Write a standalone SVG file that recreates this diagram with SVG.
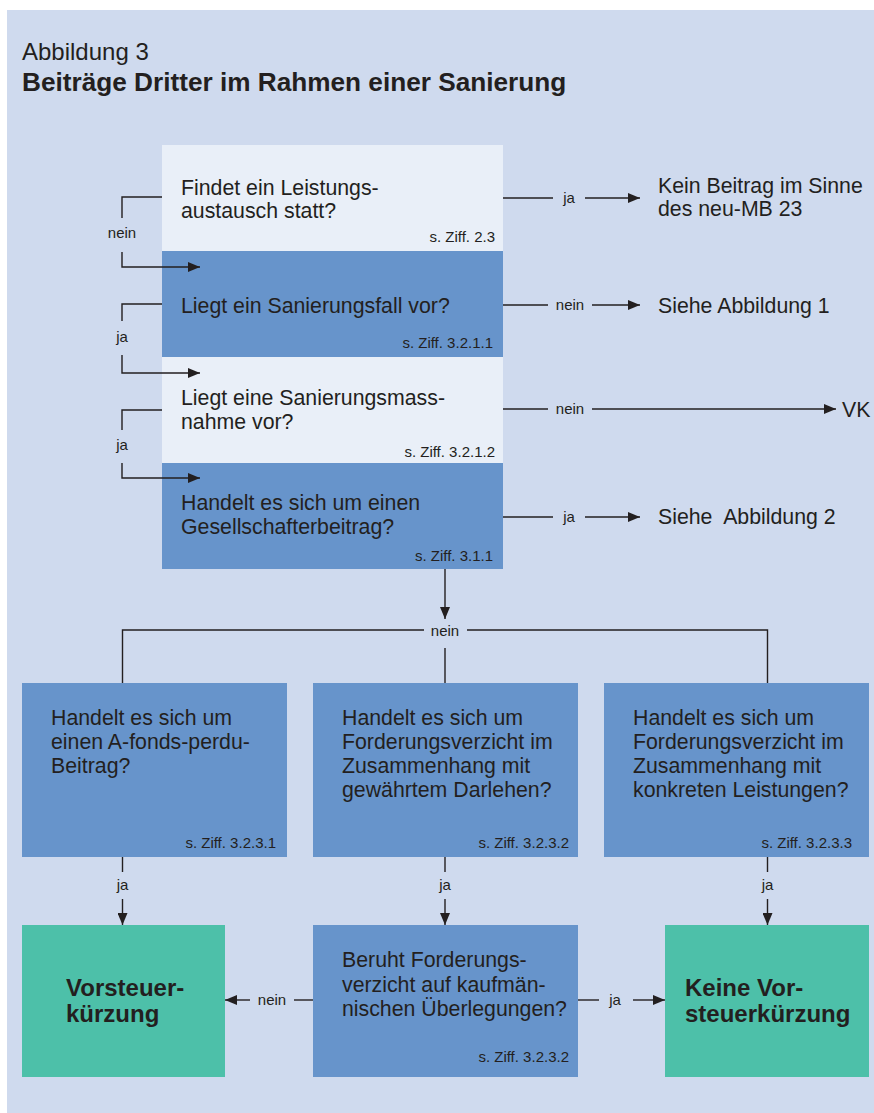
<svg xmlns="http://www.w3.org/2000/svg" width="874" height="1113" viewBox="0 0 874 1113">
<defs>
<marker id="ah" markerUnits="userSpaceOnUse" markerWidth="12" markerHeight="10" refX="12" refY="5" orient="auto">
<path d="M0,0 L12,5 L0,10 z" fill="#231F20"/>
</marker>
<style>
text{font-family:"Liberation Sans",Arial,sans-serif;fill:#231F20}
.t{font-size:21.3px}
.r{font-size:15px;text-anchor:end}
.l{font-size:15px;text-anchor:middle}
.b{font-size:24px;font-weight:bold}
.light{fill:#E9EFF8}
.blue{fill:#6794CB}
.green{fill:#4DC0A9}
.c{fill:none;stroke:#231F20;stroke-width:1.4}
</style>
</defs>
<rect x="7" y="10" width="867" height="1103" fill="#CFDAEE"/>
<g id="title">
<text x="22" y="60" style="font-size:24px">Abbildung 3</text>
<text x="22" y="91" style="font-size:26.2px;font-weight:bold">Beiträge Dritter im Rahmen einer Sanierung</text>
</g>
<g id="q1">
<rect class="light" x="162" y="145" width="341" height="106"/>
<text class="t" x="181" y="195">Findet ein Leistungs-</text>
<text class="t" x="181" y="218">austausch statt?</text>
<text class="r" x="495" y="242">s. Ziff. 2.3</text>
</g>
<g id="q2">
<rect class="blue" x="162" y="251" width="341" height="106"/>
<text class="t" x="181" y="313">Liegt ein Sanierungsfall vor?</text>
<text class="r" x="493" y="348">s. Ziff. 3.2.1.1</text>
</g>
<g id="q3">
<rect class="light" x="162" y="357" width="341" height="106"/>
<text class="t" x="181" y="405">Liegt eine Sanierungsmass-</text>
<text class="t" x="181" y="429">nahme vor?</text>
<text class="r" x="495" y="457">s. Ziff. 3.2.1.2</text>
</g>
<g id="q4">
<rect class="blue" x="162" y="463" width="341" height="106"/>
<text class="t" x="181" y="510">Handelt es sich um einen</text>
<text class="t" x="181" y="534">Gesellschafterbeitrag?</text>
<text class="r" x="493" y="561">s. Ziff. 3.1.1</text>
</g>
<g id="out1">
<text class="t" x="658" y="193">Kein Beitrag im Sinne</text>
<text class="t" x="658" y="216">des neu-MB 23</text>
</g>
<g id="out2"><text class="t" x="658" y="313">Siehe Abbildung 1</text></g>
<g id="out3"><text class="t" x="842" y="417">VK</text></g>
<g id="out4"><text class="t" x="658" y="524" xml:space="preserve">Siehe  Abbildung 2</text></g>
<g id="m1">
<rect class="blue" x="22" y="683" width="265" height="174"/>
<text class="t" x="51" y="725">Handelt es sich um</text>
<text class="t" x="51" y="749">einen A-fonds-perdu-</text>
<text class="t" x="51" y="773">Beitrag?</text>
<text class="r" x="276" y="848">s. Ziff. 3.2.3.1</text>
</g>
<g id="m2">
<rect class="blue" x="313" y="683" width="265" height="174"/>
<text class="t" x="342" y="725">Handelt es sich um</text>
<text class="t" x="342" y="749">Forderungsverzicht im</text>
<text class="t" x="342" y="773">Zusammenhang mit</text>
<text class="t" x="342" y="797">gewährtem Darlehen?</text>
<text class="r" x="569" y="848">s. Ziff. 3.2.3.2</text>
</g>
<g id="m3">
<rect class="blue" x="604" y="683" width="265" height="174"/>
<text class="t" x="633" y="725">Handelt es sich um</text>
<text class="t" x="633" y="749">Forderungsverzicht im</text>
<text class="t" x="633" y="773">Zusammenhang mit</text>
<text class="t" x="633" y="797">konkreten Leistungen?</text>
<text class="r" x="852" y="848">s. Ziff. 3.2.3.3</text>
</g>
<g id="b1">
<rect class="green" x="22" y="925" width="203" height="152"/>
<text class="b" x="66" y="996">Vorsteuer-</text>
<text class="b" x="66" y="1022">kürzung</text>
</g>
<g id="b2">
<rect class="blue" x="313" y="925" width="265" height="152"/>
<text class="t" x="342" y="967">Beruht Forderungs-</text>
<text class="t" x="342" y="992">verzicht auf kaufmän-</text>
<text class="t" x="342" y="1016">nischen Überlegungen?</text>
<text class="r" x="569" y="1062">s. Ziff. 3.2.3.2</text>
</g>
<g id="b3">
<rect class="green" x="665" y="925" width="204" height="152"/>
<text class="b" x="685" y="996">Keine Vor-</text>
<text class="b" x="685" y="1022">steuerkürzung</text>
</g>
<g id="connectors">
<path class="c" d="M162,197 H122 V218"/>
<path class="c" d="M122,252 V267 H200" marker-end="url(#ah)"/>
<text class="l" x="122" y="238">nein</text>
<path class="c" d="M162,304 H122 V321"/>
<path class="c" d="M122,355 V373 H200" marker-end="url(#ah)"/>
<text class="l" x="122" y="342">ja</text>
<path class="c" d="M162,410 H122 V430"/>
<path class="c" d="M122,463 V478 H200" marker-end="url(#ah)"/>
<text class="l" x="122" y="450">ja</text>
<path class="c" d="M503,198 H553"/>
<path class="c" d="M585,198 H640" marker-end="url(#ah)"/>
<text class="l" x="569" y="203">ja</text>
<path class="c" d="M503,305 H548"/>
<path class="c" d="M592,305 H640" marker-end="url(#ah)"/>
<text class="l" x="570" y="310">nein</text>
<path class="c" d="M503,409 H548"/>
<path class="c" d="M592,409 H836" marker-end="url(#ah)"/>
<text class="l" x="570" y="414">nein</text>
<path class="c" d="M503,517 H553"/>
<path class="c" d="M585,517 H640" marker-end="url(#ah)"/>
<text class="l" x="569" y="522">ja</text>
<path class="c" d="M445,569 V619" marker-end="url(#ah)"/>
<text class="l" x="445" y="636">nein</text>
<path class="c" d="M424,630 H122.5 V683"/>
<path class="c" d="M467,630 H767.5 V683"/>
<path class="c" d="M445,648 V683"/>
<path class="c" d="M122.5,857 V872"/>
<path class="c" d="M122.5,899 V925" marker-end="url(#ah)"/>
<text class="l" x="122.5" y="890">ja</text>
<path class="c" d="M445,857 V872"/>
<path class="c" d="M445,899 V925" marker-end="url(#ah)"/>
<text class="l" x="445" y="890">ja</text>
<path class="c" d="M767.5,857 V872"/>
<path class="c" d="M767.5,899 V925" marker-end="url(#ah)"/>
<text class="l" x="767.5" y="890">ja</text>
<path class="c" d="M313,1000 H294"/>
<path class="c" d="M250,1000 H225" marker-end="url(#ah)"/>
<text class="l" x="272" y="1005">nein</text>
<path class="c" d="M578,1000 H599"/>
<path class="c" d="M633,1000 H665" marker-end="url(#ah)"/>
<text class="l" x="615" y="1005">ja</text>
</g>
</svg>
